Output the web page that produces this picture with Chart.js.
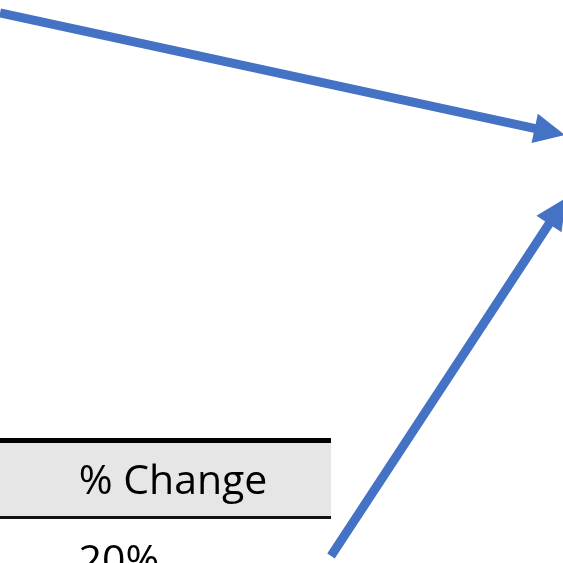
<!DOCTYPE html>
<html>
<head>
<meta charset="utf-8">
<script src="https://cdn.jsdelivr.net/npm/chart.js@4"></script>
<style>
  html, body { margin: 0; padding: 0; background: #ffffff; }
  #wrap { width: 563px; height: 563px; }
</style>
</head>
<body>
<div id="wrap"><canvas id="myChart" width="563" height="563"></canvas></div>
<script>
//Arrow data (in plot units, 0..563 on both axes, y counted from the top).
const arrowNames = ["top arrow", "bottom arrow"];
const arrowStartX = [0, 331];
const arrowStartY = [13, 556];
const arrowTipX = [565, 566];
const arrowTipY = [135, 198];

//Table fragment data.
const tableHeaders = ["% Change"];
const tableValues = ["20%"];

const arrowColor = "#4472C4";
const headLength = 31;
const headHalfWidth = 15;

//Work out where each shaft meets its arrowhead.
function headBase(i) {
  let dx = arrowTipX[i] - arrowStartX[i];
  let dy = arrowTipY[i] - arrowStartY[i];
  let len = Math.sqrt(dx * dx + dy * dy);
  return {
    x: arrowTipX[i] - dx / len * (headLength - 2),
    y: arrowTipY[i] - dy / len * (headLength - 2)
  };
}

let datasets = arrowNames.map((name, i) => {
  let base = headBase(i);
  return {
    label: name,
    data: [{ x: arrowStartX[i], y: arrowStartY[i] }, base],
    showLine: true,
    borderColor: arrowColor,
    borderWidth: 9,
    pointRadius: 0,
    fill: false
  };
});

//Plugin: table fragment underneath, arrowheads on top.
const tablePlugin = {
  id: "tableFragment",
  beforeDatasetsDraw(chart) {
    let ctx = chart.ctx;
    let xs = chart.scales.x;
    let ys = chart.scales.y;
    let left = xs.getPixelForValue(0);
    let right = xs.getPixelForValue(331);
    ctx.save();
    //Header fill.
    ctx.fillStyle = "#E7E6E6";
    ctx.fillRect(left, ys.getPixelForValue(443), right - left, ys.getPixelForValue(516) - ys.getPixelForValue(443));
    //Header rules.
    ctx.fillStyle = "#000000";
    ctx.fillRect(left, ys.getPixelForValue(438), right - left, 5);
    ctx.fillStyle = "#111111";
    ctx.fillRect(left, ys.getPixelForValue(516), right - left, 3);
    //Texts.
    ctx.fillStyle = "#000000";
    ctx.font = "41px 'Open Sans', sans-serif";
    ctx.textAlign = "center";
    ctx.textBaseline = "alphabetic";
    ctx.fillText(tableHeaders[0], xs.getPixelForValue(173), ys.getPixelForValue(494));
    ctx.fillText(tableValues[0], xs.getPixelForValue(119), ys.getPixelForValue(574));
    ctx.restore();
  },
  afterDatasetsDraw(chart) {
    let ctx = chart.ctx;
    let xs = chart.scales.x;
    let ys = chart.scales.y;
    ctx.save();
    ctx.fillStyle = arrowColor;
    arrowNames.forEach((name, i) => {
      let tx = xs.getPixelForValue(arrowTipX[i]);
      let ty = ys.getPixelForValue(arrowTipY[i]);
      let sx = xs.getPixelForValue(arrowStartX[i]);
      let sy = ys.getPixelForValue(arrowStartY[i]);
      let dx = tx - sx;
      let dy = ty - sy;
      let len = Math.sqrt(dx * dx + dy * dy);
      let ux = dx / len;
      let uy = dy / len;
      let bx = tx - ux * headLength;
      let by = ty - uy * headLength;
      ctx.beginPath();
      ctx.moveTo(tx, ty);
      ctx.lineTo(bx - uy * headHalfWidth, by + ux * headHalfWidth);
      ctx.lineTo(bx + uy * headHalfWidth, by - ux * headHalfWidth);
      ctx.closePath();
      ctx.fill();
    });
    ctx.restore();
  }
};

let ctx = document.getElementById("myChart").getContext("2d");
let myChart = new Chart(ctx, {
  type: "scatter",
  data: { datasets },
  options: {
    responsive: false,
    animation: false,
    layout: { padding: 0 },
    plugins: {
      legend: { display: false },
      tooltip: { enabled: false }
    },
    scales: {
      x: { type: "linear", min: 0, max: 563, display: false },
      y: { type: "linear", min: 0, max: 563, reverse: true, display: false }
    }
  },
  plugins: [tablePlugin]
});
</script>
</body>
</html>
